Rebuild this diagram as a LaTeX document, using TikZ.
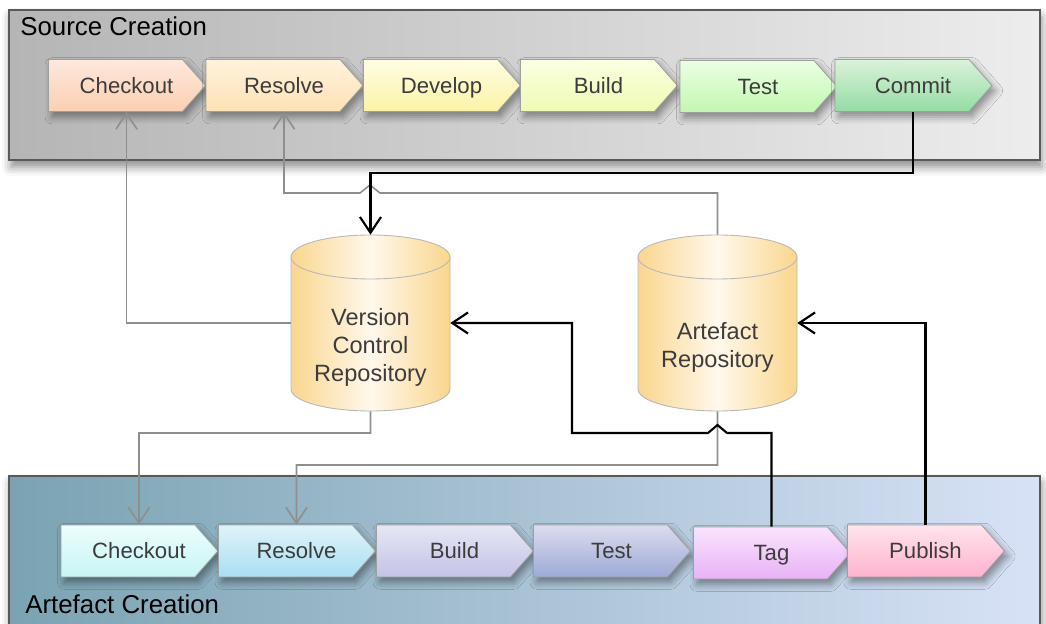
\documentclass[tikz,border=0pt]{standalone}
\usepackage{fontspec}
\setmainfont{Liberation Sans}
\usetikzlibrary{shapes.symbols,shadows.blur,arrows.meta,calc}

\definecolor{txtgrey}{HTML}{3C3C3C}
\definecolor{linkgrey}{HTML}{8E8E8E}
\definecolor{tankside}{HTML}{FAD68E}
\definecolor{tankmid}{HTML}{FFF8EC}
\definecolor{tankline}{HTML}{B8B8B8}
\definecolor{srcleft}{HTML}{B5B5B5}
\definecolor{srcright}{HTML}{EDEDED}
\definecolor{artleft}{HTML}{7AA3B2}
\definecolor{artright}{HTML}{D8E2F7}
% stage colours: top / bottom
\definecolor{coT}{HTML}{FEE8DC}\definecolor{coB}{HTML}{FBCFB2}
\definecolor{rsT}{HTML}{FFF2DC}\definecolor{rsB}{HTML}{FDE2B4}
\definecolor{dvT}{HTML}{FFFDE2}\definecolor{dvB}{HTML}{FBF3A6}
\definecolor{bdT}{HTML}{FBFFE2}\definecolor{bdB}{HTML}{EEFBB2}
\definecolor{tsT}{HTML}{EBFFE4}\definecolor{tsB}{HTML}{C2F7B0}
\definecolor{cmT}{HTML}{DAF2DA}\definecolor{cmB}{HTML}{94DCA4}
\definecolor{ckT}{HTML}{ECFDFD}\definecolor{ckB}{HTML}{C8F5F5}
\definecolor{rvT}{HTML}{DFF3FA}\definecolor{rvB}{HTML}{A9DFF2}
\definecolor{blT}{HTML}{E6E6F6}\definecolor{blB}{HTML}{C3C3E6}
\definecolor{teT}{HTML}{DCDCEE}\definecolor{teB}{HTML}{9DAAD6}
\definecolor{tgT}{HTML}{FAE4FE}\definecolor{tgB}{HTML}{E8B2F5}
\definecolor{pbT}{HTML}{FFE4EE}\definecolor{pbB}{HTML}{FFB2CD}

\newcommand*{\tank}[3]{%
  \path (#2) coordinate (#1-c);
  \shade[left color=tankside, right color=tankside, middle color=tankmid, draw=tankline, line width=.5pt]
    ($(#1-c)+(-79.5,-66)$) -- ++(0,132)
    arc[start angle=180, end angle=0, x radius=79.5, y radius=22] -- ++(0,-132)
    arc[start angle=0, end angle=-180, x radius=79.5, y radius=22] -- cycle;
  \draw[tankline, line width=.5pt] ($(#1-c)+(-79.5,-66)$)
    arc[start angle=180, end angle=0, x radius=79.5, y radius=22];
  \node[repo] (#1) at (#1-c) {};
  \node[repotext] (#1-t) at ($(#1-c)+(0,24)$) {#3};
}

\tikzset{
  stage/.style={signal, signal to=east, signal pointer angle=97,
    draw=gray!75, line width=.5pt, top color=#1T, bottom color=#1B,
    minimum width=3.14cm, minimum height=1.04cm, inner sep=0pt,
    text height=9pt, text depth=0pt,
    text=txtgrey, font=\fontsize{12.6}{14}\selectfont,
    execute at begin node={\hspace*{.44cm}},
    blur shadow={shadow xshift=2pt, shadow yshift=-3pt, shadow blur radius=4pt, shadow opacity=40}},
  panel/.style={draw=black!65, line width=.6pt,
    blur shadow={shadow xshift=1pt, shadow yshift=-4pt, shadow blur radius=5pt, shadow opacity=45}},
  title/.style={anchor=base west, inner sep=0pt, font=\fontsize{14.7}{17}\selectfont},
  repo/.style={rectangle, minimum width=3.18cm, minimum height=3.52cm, inner sep=0pt},
  repotext/.style={align=center, inner sep=0pt, text=txtgrey, font=\fontsize{13.4}{15.9}\selectfont},
  greylink/.style={draw=linkgrey, line width=.9pt},
  blacklink/.style={draw=black, line width=1.2pt},
  tip/.style={-{Straight Barb[length=9pt, width=12pt]}}
}

\begin{document}
\begin{tikzpicture}[x=0.02cm, y=-0.02cm]
\useasboundingbox (0,0) rectangle (1046,624);

% panels
\draw[panel, left color=srcleft, right color=srcright] (9,10) rectangle (1040,160);
\draw[panel, left color=artleft, right color=artright] (9,476) rectangle (1040,640);
\node[title] (srctitle) at (20,36) {Source Creation};
\node[title] (arttitle) at (25,614) {Artefact Creation};

% source creation
\node[stage=co] (co) at (115.5,85.5) {Checkout};
\node[stage=rs] (rs) at (273,85.5) {Resolve};
\node[stage=dv] (dv) at (430.5,85.5) {Develop};
\node[stage=bd] (bd) at (587.5,85.5) {Build};
\node[stage=ts] (ts) at (747,86.5) {Test};
\node[stage=cm] (cm) at (902,85.5) {Commit};

% artefact creation
\node[stage=ck] (ck) at (128,551) {Checkout};
\node[stage=rv] (rv) at (285.5,551) {Resolve};
\node[stage=bl] (bl) at (443.5,551) {Build};
\node[stage=te] (te) at (600.5,551) {Test};
\node[stage=tg] (tg) at (760.5,553) {Tag};
\node[stage=pb] (pb) at (914.5,551) {Publish};

% repositories
\tank{vcr}{370.5,323}{Version\\Control\\Repository}
\tank{ar}{717.5,323}{Artefact\\Repository}

% links
\draw[greylink, tip] (vcr.west) -| ([xshift=.22cm]co.south);
\draw[greylink, tip] (ar.north) |- (380,193) -- (370,185) -- (360,193) -| ([xshift=.22cm]rs.south);
\draw[blacklink, tip] ([xshift=.22cm]cm.south) |- (370.5,173) -- (vcr.north);
\draw[greylink, tip] (vcr.south) |- (139,433) -- ([xshift=.22cm]ck.north);
\draw[greylink, tip] (ar.south) |- (296.5,465) -- ([xshift=.22cm]rv.north);
\draw[blacklink, tip] ([xshift=.22cm]tg.north) |- (727,433) -- (717.5,425) -- (708,433) -| (572,323) -- (vcr.east);
\draw[blacklink, tip] ([xshift=.22cm]pb.north) |- (ar.east);
\end{tikzpicture}
\end{document}
